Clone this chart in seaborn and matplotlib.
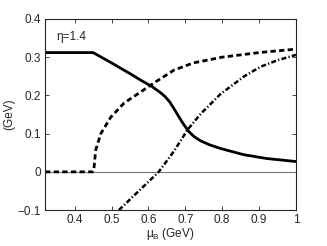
import pandas as pd
import seaborn as sns
import matplotlib.pyplot as plt

sns.set_theme(style="ticks")
plt.rcParams['font.family'] = ['Liberation Sans', 'DejaVu Sans']
plt.rcParams['mathtext.fontset'] = 'custom'
plt.rcParams['mathtext.rm'] = 'Liberation Sans'
plt.rcParams['mathtext.it'] = 'Liberation Sans'

# solid curve
mu_solid = [0.32, 0.45, 0.50, 0.55, 0.579, 0.61, 0.633, 0.645, 0.657, 0.669, 0.682, 0.695,
            0.709, 0.724, 0.742, 0.765, 0.796, 0.858, 0.92, 1.0]
val_solid = [0.312, 0.312, 0.285, 0.257, 0.240, 0.223, 0.207, 0.197, 0.184, 0.166, 0.145, 0.125,
             0.106, 0.092, 0.081, 0.071, 0.061, 0.045, 0.035, 0.027]

# dashed curve
mu_dash = [0.32, 0.449, 0.452, 0.457, 0.471, 0.498, 0.534, 0.579, 0.614, 0.669, 0.722, 0.80, 0.90, 1.0]
val_dash = [0.0, 0.0, 0.005, 0.057, 0.10, 0.143, 0.18, 0.209, 0.232, 0.266, 0.285, 0.300, 0.312, 0.321]

# dash-dot curve
mu_dd = [0.52, 0.628, 0.67, 0.706, 0.742, 0.796, 0.86, 0.904, 0.95, 1.0]
val_dd = [-0.10, 0.0, 0.055, 0.11, 0.152, 0.204, 0.25, 0.275, 0.292, 0.306]

fig = plt.figure(figsize=(3.27, 2.46), dpi=100)
ax = fig.add_axes([0.138, 0.146, 0.767, 0.777])

ax.axhline(0, color='#777777', lw=0.8, zorder=1)
sns.lineplot(x=mu_solid, y=val_solid, ax=ax, color='black', lw=2.0, sort=False)
sns.lineplot(x=mu_dash, y=val_dash, ax=ax, color='black', lw=2.0, sort=False,
             linestyle=(0, (1.9, 1.2)))
sns.lineplot(x=mu_dd, y=val_dd, ax=ax, color='black', lw=1.8, sort=False,
             linestyle=(0, (2.0, 0.9, 0.5, 0.9)))

ax.set_xlim(0.32, 1.0)
ax.set_ylim(-0.1, 0.4)
ax.set_xticks([0.4, 0.5, 0.6, 0.7, 0.8, 0.9, 1.0])
ax.set_xticklabels(['0.4', '0.5', '0.6', '0.7', '0.8', '0.9', '1'])
ax.set_yticks([-0.1, 0, 0.1, 0.2, 0.3, 0.4])
ax.set_yticklabels(['\u22120.1', '0', '0.1', '0.2', '0.3', '0.4'])
ax.tick_params(direction='in', top=True, right=True, labelsize=8.5, length=3, width=0.6, pad=3)
for s in ax.spines.values():
    s.set_linewidth(0.8)
    s.set_visible(True)

ax.set_xlabel(r'$\mu_B$ (GeV)', fontsize=8.5, labelpad=0)
ax.set_ylabel('(GeV)', fontsize=8.5, labelpad=2)
ax.text(0.35, 0.353, '\u03b7=1.4', fontsize=8.5, va='center')

fig.savefig('out.png', dpi=100)
